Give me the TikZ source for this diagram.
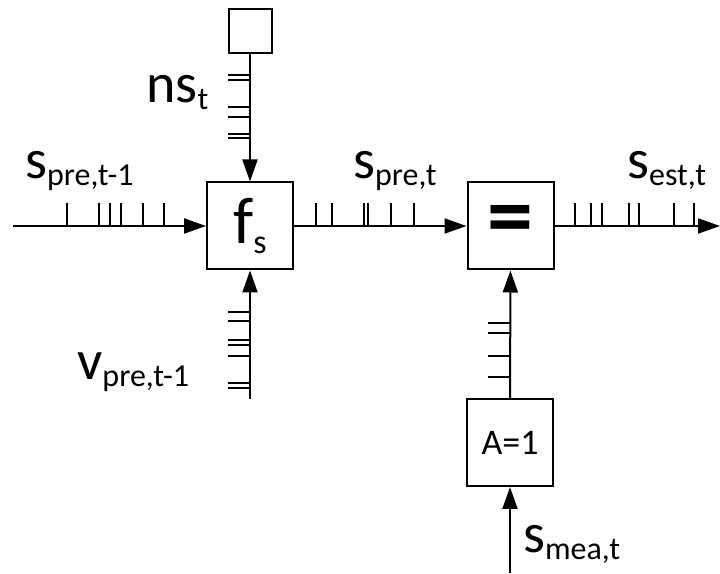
\documentclass[tikz,border=0pt]{standalone}
\usepackage{fontspec}
\setmainfont{Carlito}
\usetikzlibrary{arrows.meta}

% variable name with a lowered index
\newcommand{\var}[2]{{\fontsize{56}{56}\selectfont #1}\raisebox{-7pt}{\fontsize{32}{32}\selectfont #2}}

\tikzset{
  blk/.style={draw, line width=2pt, minimum width=86pt, minimum height=87pt, inner sep=0pt},
  wire/.style={line width=2pt, -{Triangle[length=22pt,width=15pt]}},
  hatch/.style={line width=1.5pt},
  lbl/.style={anchor=base west, inner sep=0pt}
}

\begin{document}
\begin{tikzpicture}[x=1pt,y=1pt]
\useasboundingbox (0,0) rectangle (720,573);

%% blocks
\node[blk, minimum width=43pt, minimum height=44pt] (ns) at (250,542) {};
\node[blk] (fs) at (250,347) {\fontsize{66}{66}\selectfont f\raisebox{-10pt}{\fontsize{34}{34}\selectfont s}};
\node[blk] (eq) at (510.5,347) {\fontsize{92}{92}\selectfont\bfseries =};
\node[blk] (A) at (510,130.5) {\fontsize{36}{36}\selectfont A=1};

%% free ends
\coordinate (sin) at (13,347);
\coordinate (sout) at (720,347);
\coordinate (vin) at (250,174);
\coordinate (mea) at (510,0);

%% connectors
\draw[wire] (sin) -- (fs);
\draw[wire] (ns) -- (fs);
\draw[wire] (vin) -- (fs);
\draw[wire] (fs) -- (eq);
\draw[wire] (A) -- (eq);
\draw[wire] (eq) -- (sout);
\draw[wire] (mea) -- (A);

%% tick marks on the wires
\foreach \x in {67,99,110,121,143,164,316,332,364,368,391,414,575,591,602,629,639,674,694}
  \draw[hatch] (\x,347) -- ++(0,23);
\foreach \y in {498,493,466,456,439,435,261,252,233,228,217,190,185}
  \draw[hatch] (250,\y) -- ++(-22,0);
\foreach \y in {250,240,217,196}
  \draw[hatch] (510,\y) -- ++(-22,0);

%% labels
\node[lbl] (lspre1) at (25,394) {\var{s}{pre,t-1}};
\node[lbl] (lns) at (146,470) {\var{ns}{t}};
\node[lbl] (lspre) at (353,394) {\var{s}{pre,t}};
\node[lbl] (lsest) at (627,394) {\var{s}{est,t}};
\node[lbl] (lvpre) at (77,193) {\var{v}{pre,t-1}};
\node[lbl] (lsmea) at (523,21) {\var{s}{mea,t}};

\end{tikzpicture}
\end{document}
